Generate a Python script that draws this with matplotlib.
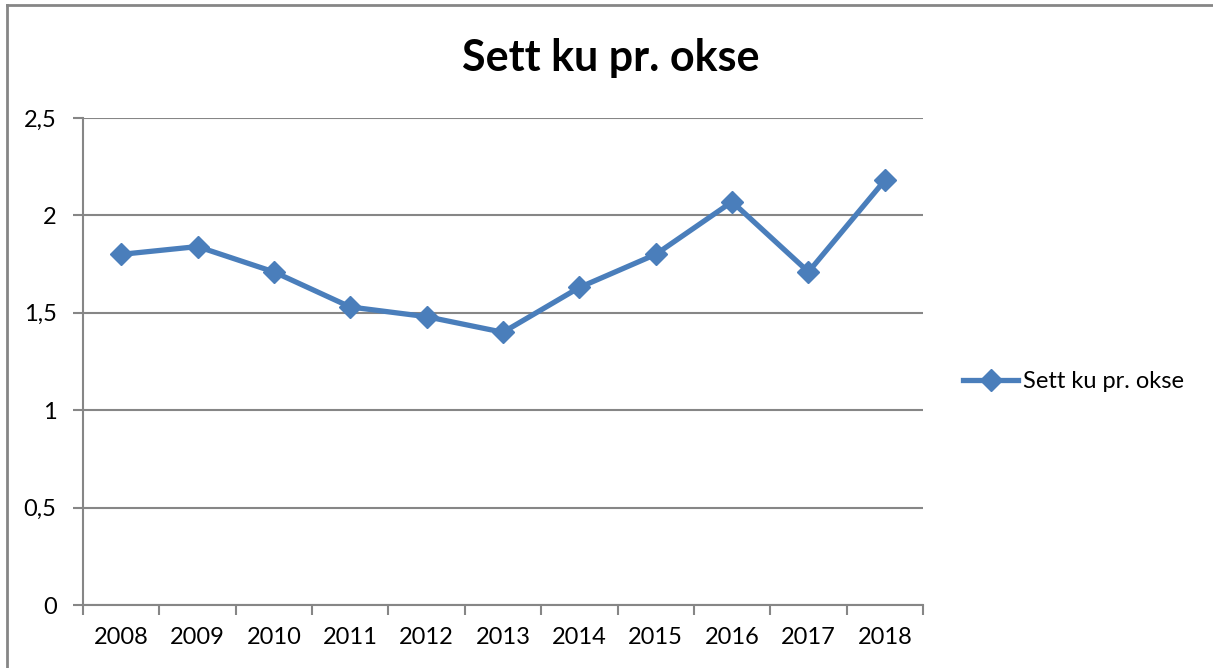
import matplotlib.pyplot as plt
import numpy as np
from matplotlib.lines import Line2D

years = ['2008', '2009', '2010', '2011', '2012', '2013', '2014', '2015', '2016', '2017', '2018']
values = [1.80, 1.84, 1.71, 1.53, 1.48, 1.40, 1.63, 1.80, 2.07, 1.71, 2.18]
y_ticks = [0, 0.5, 1, 1.5, 2, 2.5]
y_labels = ['0', '0,5', '1', '1,5', '2', '2,5']

plt.rcParams['font.family'] = ['Lato', 'DejaVu Sans']
grey = '#868686'
blue = '#4A7EBB'

fig = plt.figure(figsize=(12.13, 6.68), dpi=100)
ax = fig.add_axes([83 / 1213, 1 - 605 / 668, 840 / 1213, 487 / 668])

x = np.arange(len(years))
ax.plot(x, values, color=blue, linewidth=3.8, marker='D', markersize=11,
        label='Sett ku pr. okse')

ax.set_xlim(-0.5, len(years) - 0.5)
ax.set_ylim(0, 2.5)
ax.set_yticks(y_ticks)
ax.set_yticklabels(y_labels, fontsize=17)
ax.set_xticks(x)
ax.set_xticklabels(years, fontsize=17)
ax.set_xticks(np.arange(-0.5, len(years), 1), minor=True)
ax.tick_params(axis='x', which='major', length=0, pad=16)
ax.tick_params(axis='x', which='minor', length=7, width=1.5, color=grey)
ax.tick_params(axis='y', length=7, width=1.5, color=grey, pad=12)

ax.grid(axis='y', color=grey, linewidth=1.5)
ax.set_axisbelow(True)
for side in ['top', 'right']:
    ax.spines[side].set_visible(False)
for side in ['left', 'bottom']:
    ax.spines[side].set_color(grey)
    ax.spines[side].set_linewidth(1.5)

fig.text(611 / 1213, 1 - 58 / 668, 'Sett ku pr. okse', fontsize=31, fontweight='bold',
         ha='center', va='center')

ax.legend(loc='center left', bbox_to_anchor=(963 / 1213, 1 - 382 / 668),
          bbox_transform=fig.transFigure, frameon=False, fontsize=17,
          handlelength=2.35, handletextpad=0.2, borderaxespad=0, borderpad=0)

# chart frame
fig.add_artist(Line2D([7 / 1213, 1], [1 - 5 / 668, 1 - 5 / 668], color=grey, linewidth=2))
fig.add_artist(Line2D([7 / 1213, 7 / 1213], [0, 1 - 5 / 668], color=grey, linewidth=2))

fig.savefig('out.png', dpi=100)
